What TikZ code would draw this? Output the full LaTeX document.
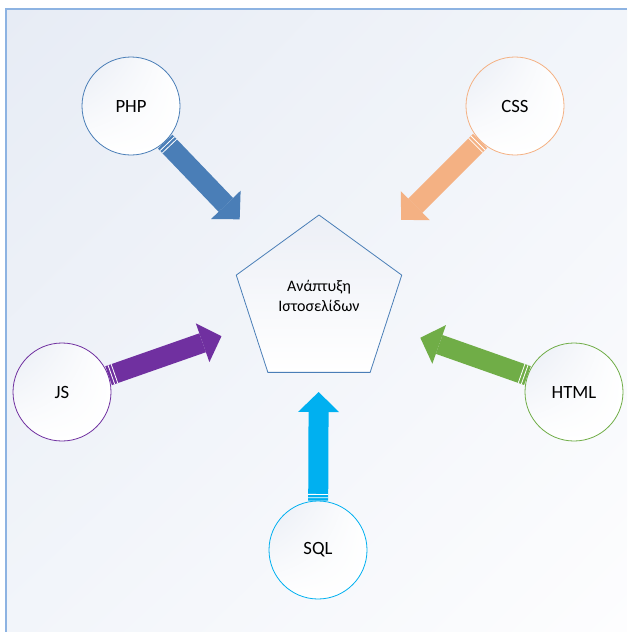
\documentclass[tikz,border=0pt]{standalone}
\usepackage{fontspec}
\setmainfont{Carlito}
\usetikzlibrary{arrows.meta,shapes.geometric,shadings,calc}
\definecolor{phpblue}{HTML}{4A7EB7}
\definecolor{cssorange}{HTML}{F4B183}
\definecolor{jspurple}{HTML}{7030A0}
\definecolor{htmlgreen}{HTML}{70AD47}
\definecolor{sqlcyan}{HTML}{00B0F0}
\definecolor{framelight}{HTML}{8DB3E2}
\definecolor{bgtl}{HTML}{E7ECF5}
\definecolor{bgtr}{HTML}{F2F5FA}
\definecolor{bgbl}{HTML}{F2F5FA}
\definecolor{bgbr}{HTML}{FDFDFE}
\definecolor{circtop}{HTML}{E9EDF5}
\definecolor{pentop}{HTML}{ECEFF6}

\begin{document}
\begin{tikzpicture}[x=1pt,y=-1pt]
\tikzstyle{every node}=[font=\fontsize{18.7}{22}\selectfont, text=black]
\tikzstyle{tech}=[circle, minimum size=98pt, inner sep=0pt, line width=0.8pt,
  upper left=circtop, upper right=white, lower left=white, lower right=white]
\tikzstyle{blockarrow}=[line width=20pt, -{Triangle[length=20pt,width=41pt,line width=0pt]}]
\tikzstyle{stripes}=[white, line width=20pt, dash pattern=on 0pt off 2.5pt on 0.8pt off 2.5pt on 0.8pt off 500pt]

% page and background
\useasboundingbox (0,0) rectangle (627,632);
\fill[white] (0,0) rectangle (627,632);
\shade[upper left=bgtl, upper right=bgtr, lower left=bgbl, lower right=bgbr] (6,9) rectangle (627,632);
\draw[framelight, line width=1.5pt] (6,632) -- (6,9) -- (627,9);

% centre
\node[regular polygon, regular polygon sides=5, minimum size=174pt, inner sep=0pt,
  draw=phpblue, line width=0.8pt, top color=pentop, bottom color=white,
  align=center, font=\fontsize{16}{19.5}\selectfont, text depth=12pt] (web) at (319,302) {Ανάπτυξη\\Ιστοσελίδων};

% technologies
\node[tech, draw=phpblue] (php) at (131,106) {PHP};
\node[tech, draw=cssorange] (css) at (515,106) {CSS};
\node[tech, draw=jspurple] (js) at (62,392) {JS};
\node[tech, draw=htmlgreen] (html) at (574,392) {HTML};
\node[tech, draw=sqlcyan] (sql) at (318,550) {SQL};

% arrows
\draw[blockarrow, phpblue] (php) -- ($(php)!157pt!(web)$);
\draw[stripes] (php) -- ($(php)!157pt!(web)$);
\draw[blockarrow, cssorange] (css) -- ($(css)!161pt!(web)$);
\draw[stripes] (css) -- ($(css)!161pt!(web)$);
\draw[blockarrow, jspurple] (js) -- ($(js)!169pt!(web)$);
\draw[stripes] (js) -- ($(js)!169pt!(web)$);
\draw[blockarrow, htmlgreen] (html) -- ($(html)!163pt!(web)$);
\draw[stripes] (html) -- ($(html)!163pt!(web)$);
\draw[blockarrow, sqlcyan] (sql) -- ($(sql)!158pt!(web)$);
\draw[stripes] (sql) -- ($(sql)!158pt!(web)$);
\end{tikzpicture}
\end{document}
